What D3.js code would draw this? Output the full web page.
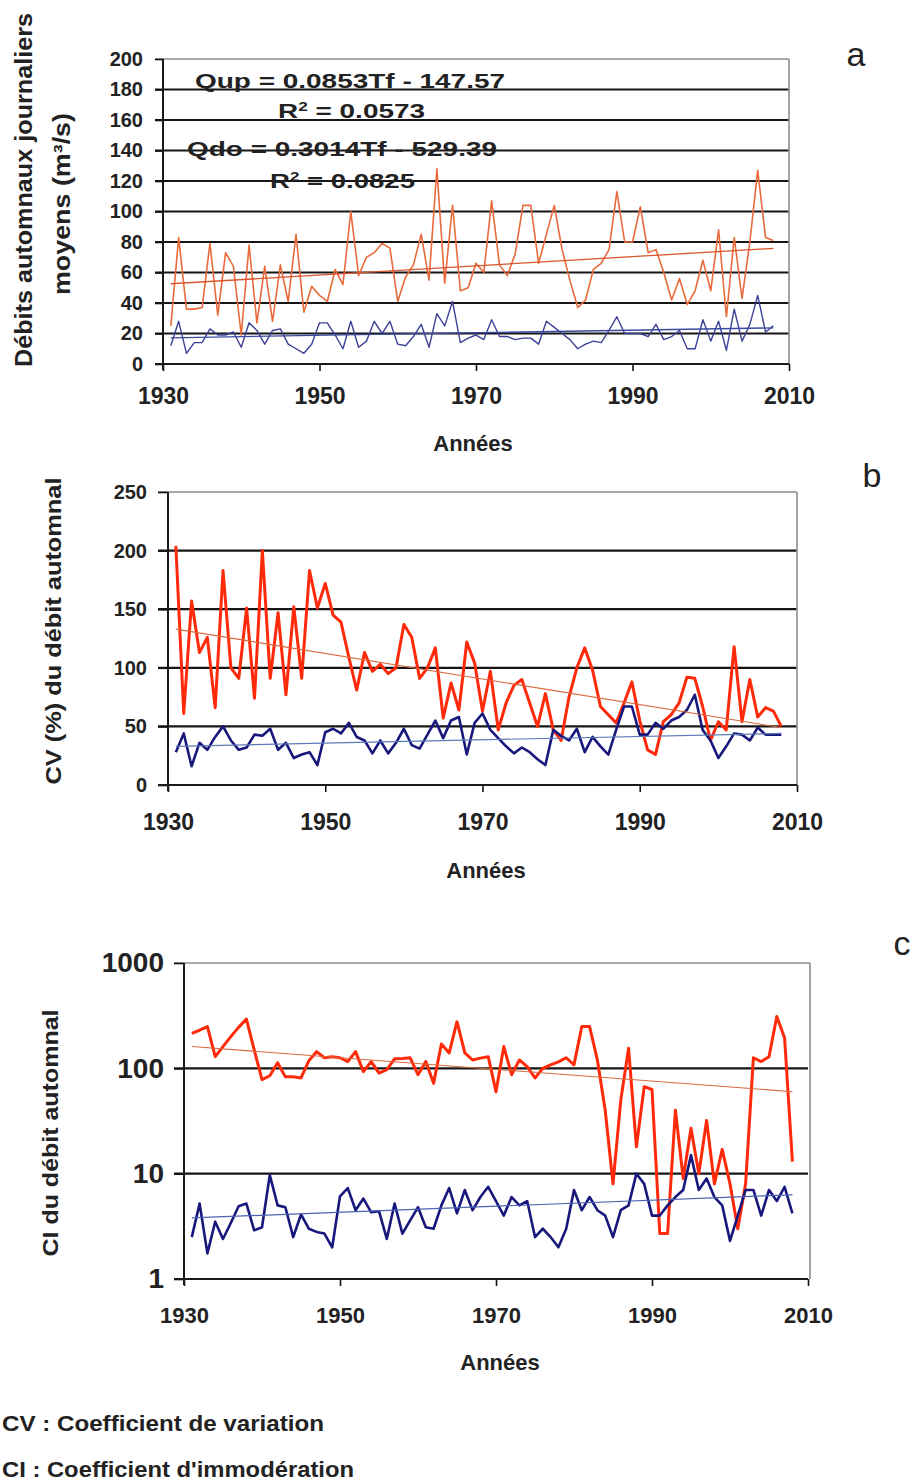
<!DOCTYPE html>
<html>
<head>
<meta charset="utf-8">
<script src="https://cdn.jsdelivr.net/npm/d3@7"></script>
<style>
  body { margin: 0; background: #fff; }
  svg { display: block; }
  text { font-family: "Liberation Sans", Arial, Helvetica, sans-serif; }
</style>
</head>
<body>
<svg id="fig" width="914" height="1482"></svg>
<script>
// ---- data: autumn flows 1931-2008, downstream (do) and upstream (up) stations ----
const firstYear = 1931;

// (a) mean autumn daily flows, m3/s
const flowDown = [25, 83, 36, 36, 37, 79, 32, 73, 64, 19,
  78, 27, 64, 28, 65, 41, 85, 34, 51, 45,
  41, 62, 52, 100, 58, 70, 73, 79, 76, 41,
  57, 65, 85, 55, 128, 53, 104, 48, 50, 66,
  60, 107, 65, 58, 72, 104, 104, 66, 85, 104,
  75, 55, 37, 42, 62, 66, 75, 113, 80, 80,
  103, 73, 75, 60, 42, 56, 39, 48, 68, 48,
  88, 31, 83, 43, 80, 127, 83, 81];
const flowUp = [12, 28, 7, 14, 14, 23, 19, 19, 21, 11,
  27, 22, 13, 22, 23, 13, 10, 7, 13, 27,
  27, 19, 10, 28, 11, 15, 28, 20, 28, 13,
  12, 18, 26, 11, 33, 25, 41, 14, 17, 19,
  16, 29, 18, 18, 16, 17, 17, 13, 28, 24,
  20, 16, 10, 13, 15, 14, 22, 31, 20, 20,
  20, 18, 26, 16, 18, 22, 10, 10, 29, 15,
  28, 9, 36, 15, 26, 45, 21, 25];
// linear fits printed on panel a: Q = slope * Tf + intercept
const fitUp = { slope: 0.0853, intercept: -147.57, r2: "0.0573" };
const fitDown = { slope: 0.3014, intercept: -529.39, r2: "0.0825" };
const debitTicks = [0, 20, 40, 60, 80, 100, 120, 140, 160, 180, 200];

// (b) coefficient of variation of autumn flow, %
const cvDown = [204, 61, 157, 113, 126, 66, 183, 100, 91, 151,
  74, 200, 91, 147, 77, 152, 91, 183, 151, 172,
  145, 139, 109, 81, 113, 97, 103, 95, 100, 137,
  126, 91, 100, 117, 57, 87, 64, 122, 104, 63,
  97, 47, 70, 85, 90, 70, 50, 78, 47, 38,
  75, 100, 117, 98, 67, 60, 53, 70, 88, 55,
  30, 26, 54, 60, 70, 92, 91, 67, 38, 54,
  47, 118, 54, 90, 58, 66, 63, 50];
const cvUp = [28, 44, 16, 36, 30, 41, 50, 38, 30, 32,
  43, 42, 48, 30, 36, 23, 26, 28, 17, 45,
  48, 44, 53, 41, 38, 27, 38, 27, 36, 48,
  34, 31, 43, 55, 40, 55, 58, 26, 53, 61,
  47, 40, 33, 27, 32, 28, 22, 17, 47, 42,
  38, 48, 28, 41, 33, 26, 47, 67, 67, 43,
  43, 53, 48, 55, 58, 64, 77, 47, 38, 23,
  33, 44, 43, 38, 49, 43, 43, 43];
// trend line end values (1931, 2008)
const cvDownTrend = [133, 49];
const cvUpTrend = [33, 44];
const cvTicks = [0, 50, 100, 150, 200, 250];

// (c) coefficient of immoderation of autumn flow
const ciDown = [215, 230, 249, 129, 161, 200, 245, 293, 150, 78,
  85, 113, 83, 83, 81, 118, 144, 126, 129, 126,
  116, 144, 93, 116, 90, 97, 123, 124, 126, 87,
  116, 72, 170, 140, 277, 140, 120, 125, 129, 60,
  161, 87, 120, 104, 81, 100, 108, 115, 126, 108,
  249, 249, 120, 40, 8, 50, 155, 18, 67, 63,
  2.7, 2.7, 40, 9, 27, 10, 32, 8, 17, 8,
  3, 8, 126, 116, 129, 310, 194, 13];
const ciUp = [2.5, 5.2, 1.75, 3.5, 2.4, 3.4, 4.9, 5.2, 2.9, 3.1,
  9.7, 5.0, 4.8, 2.5, 4.1, 3.0, 2.8, 2.7, 2.0, 6.1,
  7.3, 4.5, 5.8, 4.3, 4.4, 2.4, 5.2, 2.7, 3.6, 4.8,
  3.1, 3.0, 5.0, 7.3, 4.2, 7.0, 4.5, 6.0, 7.5, 5.5,
  4.0, 6.0, 5.0, 5.5, 2.5, 3.0, 2.5, 2.0, 3.0, 7.0,
  4.5, 6.0, 4.5, 4.0, 2.5, 4.5, 5.0, 10, 8, 4,
  4, 5, 6, 7, 15, 7, 9, 6, 5, 2.3,
  4, 7, 7, 4, 7, 5.5, 7.5, 4.2];
const ciDownTrend = [161, 60];
const ciUpTrend = [3.8, 6.3];
const ciTicks = [1, 10, 100, 1000];

const yearTicks = [1930, 1950, 1970, 1990, 2010];
const years = flowDown.map((_, i) => firstYear + i);
const lastYear = years[years.length - 1];

// ---- drawing ----
const svg = d3.select("#fig");
const INK = "#222";
const GRID = "#161616";
const FRAME = "#8c8c8c";
const RED = "#ff2a0a";
const NAVY = "#17177c";

function styleAxis(g, size) {
  g.select(".domain").remove();
  g.selectAll(".tick line").attr("stroke", "#111").attr("stroke-width", 1.6);
  g.selectAll(".tick text")
    .attr("fill", INK)
    .attr("font-size", size)
    .attr("font-weight", "bold")
    .attr("font-family", "'Liberation Sans', Arial, sans-serif");
}

function drawPanel(p) {
  const g = svg.append("g");
  const [x0, x1] = p.x.range();
  const [yb, yt] = p.y.range();

  // horizontal grid
  g.selectAll("line.grid")
    .data(p.ticks.slice(1, -1))
    .join("line")
    .attr("x1", x0 - p.ySize).attr("x2", x1)
    .attr("y1", d => p.y(d)).attr("y2", d => p.y(d))
    .attr("stroke", GRID).attr("stroke-width", 2.2);

  // top and right frame
  g.append("line").attr("x1", x0 - p.ySize).attr("x2", x1 + p.frameExtra)
    .attr("y1", yt).attr("y2", yt).attr("stroke", FRAME).attr("stroke-width", 1.6);
  g.append("line").attr("x1", x1 + p.frameExtra).attr("x2", x1 + p.frameExtra)
    .attr("y1", yt).attr("y2", yb).attr("stroke", FRAME).attr("stroke-width", 1.6);

  // axes
  g.append("g").attr("transform", `translate(${x0},0)`)
    .call(d3.axisLeft(p.y).tickValues(p.ticks).tickFormat(d3.format("d"))
      .tickSize(p.ySize).tickPadding(p.yPad))
    .call(styleAxis, p.yFont);
  g.append("g").attr("transform", `translate(0,${yb})`)
    .call(d3.axisBottom(p.x).tickValues(yearTicks).tickFormat(d3.format("d"))
      .tickSize(7).tickPadding(p.xPad))
    .call(styleAxis, p.xFont);
  g.append("line").attr("x1", x0).attr("x2", x0).attr("y1", yt).attr("y2", yb + 6)
    .attr("stroke", "#1a1a1a").attr("stroke-width", 2);
  g.append("line").attr("x1", x0 - p.ySize).attr("x2", x1).attr("y1", yb).attr("y2", yb)
    .attr("stroke", "#1a1a1a").attr("stroke-width", 2.2);

  // series
  const line = d3.line().x((d, i) => p.x(years[i])).y(d => p.y(d));
  p.series.forEach(s => {
    g.append("path").datum(s.values).attr("d", line)
      .attr("fill", "none").attr("stroke", s.color).attr("stroke-width", s.width)
      .attr("stroke-linejoin", "round");
  });
  // trend lines
  p.trends.forEach(t => {
    g.append("line")
      .attr("x1", p.x(firstYear)).attr("y1", p.y(t.values[0]))
      .attr("x2", p.x(lastYear)).attr("y2", p.y(t.values[1]))
      .attr("stroke", t.color).attr("stroke-width", t.width);
  });
  return g;
}

function fitAt(fit, yr) { return fit.slope * yr + fit.intercept; }

// panel a
const xA = d3.scaleLinear().domain([1930, 2010]).range([163, 789]);
const yA = d3.scaleLinear().domain([0, 200]).range([364, 59]);
drawPanel({
  x: xA, y: yA, ticks: debitTicks, ySize: 8, yPad: 12, yFont: 20, xFont: 23, xPad: 17, frameExtra: 0,
  series: [
    { values: flowDown, color: "#ea6a3c", width: 1.6 },
    { values: flowUp, color: "#3c4198", width: 1.4 }
  ],
  trends: [
    { values: [fitAt(fitDown, firstYear), fitAt(fitDown, lastYear)], color: "#d9552e", width: 1.3 },
    { values: [fitAt(fitUp, firstYear), fitAt(fitUp, lastYear)], color: "#3a4aa0", width: 1.3 }
  ]
});

// regression equations, in a wide bold face
function eqText(x, y, len, parts) {
  const t = svg.append("text").attr("x", x).attr("y", y)
    .attr("font-size", 21).attr("font-weight", "bold").attr("fill", INK)
    .attr("textLength", len).attr("lengthAdjust", "spacingAndGlyphs");
  parts.forEach(([str, sup]) => {
    const s = t.append("tspan").text(str);
    if (sup) s.attr("baseline-shift", "super").attr("font-size", 13);
  });
}
const fmtFit = f => `${f.slope}Tf - ${Math.abs(f.intercept).toFixed(2)}`;
eqText(195, 88, 310, [[`Qup = ${fmtFit(fitUp)}`]]);
eqText(278, 118, 147, [["R"], ["2", true], [` = ${fitUp.r2}`]]);
eqText(187, 156, 310, [[`Qdo = ${fmtFit(fitDown)}`]]);
eqText(270, 188, 145, [["R"], ["2", true], [` = ${fitDown.r2}`]]);

// panel b
const xB = d3.scaleLinear().domain([1930, 2010]).range([168, 797]);
const yB = d3.scaleLinear().domain([0, 250]).range([785, 492]);
drawPanel({
  x: xB, y: yB, ticks: cvTicks, ySize: 10, yPad: 11, yFont: 20, xFont: 23, xPad: 22, frameExtra: 0,
  series: [
    { values: cvDown, color: RED, width: 3 },
    { values: cvUp, color: NAVY, width: 2.6 }
  ],
  trends: [
    { values: cvDownTrend, color: "#d8683e", width: 1.1 },
    { values: cvUpTrend, color: "#5a7ab8", width: 1.2 }
  ]
});

// panel c (log scale)
const xC = d3.scaleLinear().domain([1930, 2010]).range([184, 808]);
const yC = d3.scaleLog().domain([1, 1000]).range([1279, 963]);
drawPanel({
  x: xC, y: yC, ticks: ciTicks, ySize: 10, yPad: 10, yFont: 28, xFont: 22, xPad: 21, frameExtra: 2,
  series: [
    { values: ciDown, color: RED, width: 3 },
    { values: ciUp, color: NAVY, width: 2.6 }
  ],
  trends: [
    { values: ciDownTrend, color: "#d8683e", width: 1.1 },
    { values: ciUpTrend, color: "#4a62b0", width: 1.2 }
  ]
});

// titles
function vTitle(str, cx, cy, len, size) {
  svg.append("text")
    .attr("transform", `translate(${cx},${cy}) rotate(-90)`)
    .attr("text-anchor", "middle").attr("dy", "0.35em")
    .attr("font-size", size).attr("font-weight", "bold").attr("fill", INK)
    .attr("textLength", len).attr("lengthAdjust", "spacingAndGlyphs")
    .text(str);
}
vTitle("Débits automnaux journaliers", 24, 190, 354, 23);
vTitle("moyens  (m³/s)", 62, 204, 182, 23);
vTitle("CV (%) du débit automnal", 53, 631, 307, 22);
vTitle("CI du débit automnal", 50, 1133, 247, 22);

function hText(str, x, y, size, anchor, weight) {
  return svg.append("text").attr("x", x).attr("y", y)
    .attr("font-size", size).attr("font-weight", weight || "bold")
    .attr("text-anchor", anchor || "middle").attr("fill", INK).text(str);
}
hText("Années", 473, 451, 22);
hText("Années", 486, 878, 22);
hText("Années", 500, 1370, 22);

hText("a", 856, 66, 34, "middle", "normal");
hText("b", 872, 487, 34, "middle", "normal");
hText("c", 902, 955, 34, "middle", "normal");

hText("CV : Coefficient de variation", 2, 1431, 22, "start")
  .attr("textLength", 322).attr("lengthAdjust", "spacingAndGlyphs");
hText("CI : Coefficient d'immodération", 2, 1477, 22, "start")
  .attr("textLength", 352).attr("lengthAdjust", "spacingAndGlyphs");
</script>
</body>
</html>
